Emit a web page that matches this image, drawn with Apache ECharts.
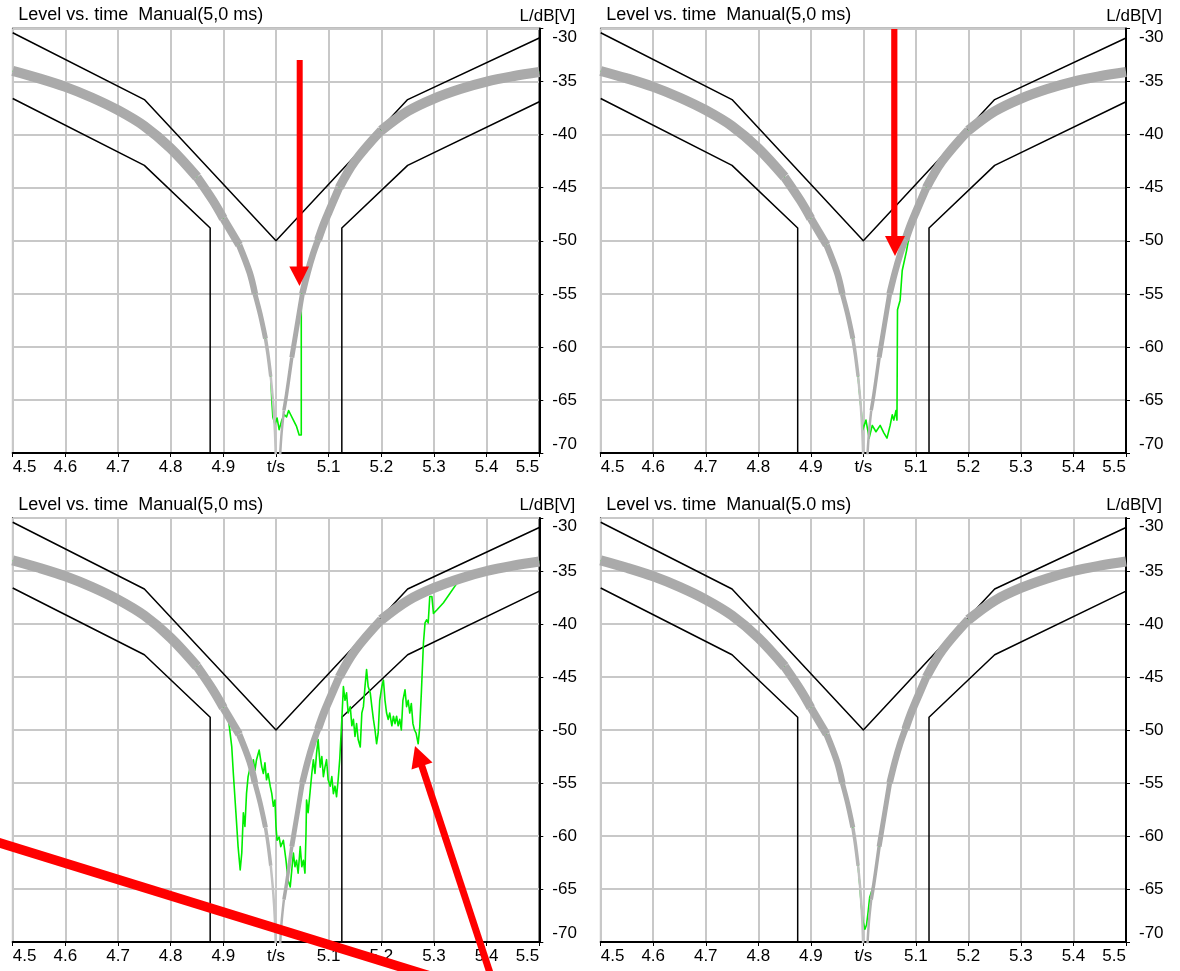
<!DOCTYPE html>
<html>
<head>
<meta charset="utf-8">
<script src="https://cdn.jsdelivr.net/npm/echarts@6/dist/echarts.min.js"></script>
<style>
  html, body { margin: 0; padding: 0; background: #ffffff; }
  #chart { width: 1180px; height: 971px; }
</style>
</head>
<body>
<div id="chart"></div>
<script>
// ---- text ----
const panelTitles = [
  'Level vs. time  Manual(5,0 ms)',
  'Level vs. time  Manual(5,0 ms)',
  'Level vs. time  Manual(5,0 ms)',
  'Level vs. time  Manual(5.0 ms)'
];
const yUnitLabel = 'L/dB[V]';
const xTickLabels = ['4.5', '4.6', '4.7', '4.8', '4.9', 't/s', '5.1', '5.2', '5.3', '5.4', '5.5'];
const yTickLabels = ['-70', '-65', '-60', '-55', '-50', '-45', '-40', '-35', '-30'];

// ---- reference level (grey band), [t/s, L/dB] ----
const refLeft = [
  [4.50, -34.0], [4.55, -34.7], [4.60, -35.5], [4.65, -36.5], [4.70, -37.7],
  [4.75, -39.2], [4.80, -41.3], [4.85, -44.0], [4.88, -46.2], [4.90, -47.9],
  [4.93, -50.4], [4.95, -53.0], [4.96, -55.0], [4.97, -56.9], [4.98, -59.2],
  [4.985, -60.8], [4.99, -62.8], [4.995, -65.5], [4.998, -68.0], [5.000, -71.0]
];
const refRight = [
  [5.006, -72.0], [5.010, -68.5], [5.015, -66.0], [5.020, -64.5], [5.030, -61.0],
  [5.040, -58.0], [5.050, -55.0], [5.060, -53.0], [5.070, -51.3], [5.080, -49.9],
  [5.090, -48.5], [5.100, -47.3], [5.120, -45.0], [5.150, -42.5], [5.200, -39.6],
  [5.250, -37.8], [5.300, -36.6], [5.350, -35.7], [5.400, -35.0], [5.450, -34.5],
  [5.500, -34.1]
];

// ---- tolerance mask (black) ----
const maskUpper = [[4.50, -30.4], [4.75, -36.7], [5.00, -50.0], [5.25, -36.7], [5.50, -30.9]];
const maskLowerLeft = [[4.50, -36.6], [4.75, -42.9], [4.875, -48.8], [4.875, -70.0]];
const maskLowerRight = [[5.125, -70.0], [5.125, -48.8], [5.25, -42.9], [5.50, -36.9]];

// ---- measured level (green) where it leaves the reference ----
const measNotch1 = [
  [4.992, -65.0], [4.994, -66.6], [4.998, -67.3], [5.002, -66.7], [5.006, -67.8],
  [5.011, -66.9], [5.016, -66.4], [5.020, -66.6], [5.024, -66.0], [5.027, -66.3],
  [5.033, -66.9], [5.039, -67.5], [5.044, -68.3], [5.048, -68.3], [5.048, -55.1],
  [5.052, -54.6]
];
const measNotch2 = [
  [4.994, -65.0], [4.997, -66.6], [4.999, -67.8], [5.005, -66.9], [5.011, -68.6],
  [5.017, -67.4], [5.024, -68.0], [5.032, -67.4], [5.039, -68.1], [5.045, -68.6],
  [5.051, -67.4], [5.055, -66.4], [5.058, -66.9], [5.062, -66.0], [5.064, -66.9],
  [5.065, -56.5], [5.070, -55.6], [5.074, -52.8], [5.082, -51.0], [5.090, -48.8]
];
const measDropout3 = [
  [4.909, -48.7], [4.916, -51.6], [4.919, -54.1], [4.924, -57.9], [4.928, -61.0],
  [4.932, -63.2], [4.935, -61.6], [4.938, -57.8], [4.941, -59.1], [4.944, -56.0],
  [4.947, -54.4], [4.951, -53.5], [4.954, -54.1], [4.957, -52.8], [4.960, -53.8],
  [4.963, -52.8], [4.968, -51.9], [4.973, -53.5], [4.976, -54.1], [4.979, -53.1],
  [4.982, -54.7], [4.985, -54.1], [4.989, -55.3], [4.992, -56.0], [4.995, -57.2],
  [4.998, -56.6], [5.000, -59.1], [5.002, -60.4], [5.006, -60.1], [5.009, -61.0],
  [5.014, -60.4], [5.019, -62.3], [5.023, -64.2], [5.027, -64.8], [5.030, -63.2],
  [5.033, -61.6], [5.036, -62.9], [5.039, -62.3], [5.042, -63.5], [5.046, -61.0],
  [5.049, -62.9], [5.052, -62.3], [5.055, -63.5], [5.057, -59.7], [5.058, -56.6],
  [5.061, -57.8], [5.065, -55.7], [5.068, -54.1], [5.071, -52.8], [5.074, -54.1],
  [5.077, -52.2], [5.080, -50.9], [5.084, -53.5], [5.087, -52.5], [5.090, -54.4],
  [5.093, -53.5], [5.096, -52.8], [5.099, -54.7], [5.103, -55.3], [5.106, -54.4],
  [5.109, -56.0], [5.112, -55.3], [5.115, -56.3], [5.118, -54.7], [5.121, -52.8],
  [5.125, -49.0], [5.128, -45.9], [5.131, -47.2], [5.134, -46.5], [5.137, -48.4],
  [5.141, -47.8], [5.144, -49.6], [5.147, -49.0], [5.150, -50.6], [5.153, -49.4],
  [5.156, -50.9], [5.160, -51.6], [5.163, -48.4], [5.166, -47.8], [5.169, -45.9],
  [5.172, -44.3], [5.175, -45.9], [5.179, -46.5], [5.182, -47.8], [5.185, -49.0],
  [5.188, -50.0], [5.191, -51.3], [5.194, -50.3], [5.197, -47.2], [5.201, -45.9],
  [5.204, -45.3], [5.207, -47.2], [5.210, -48.4], [5.213, -49.0], [5.216, -48.4],
  [5.220, -49.6], [5.223, -48.7], [5.226, -49.4], [5.229, -48.7], [5.232, -49.6],
  [5.235, -49.0], [5.238, -50.0], [5.241, -47.2], [5.245, -46.2], [5.248, -47.8],
  [5.251, -47.2], [5.254, -48.4], [5.257, -47.5], [5.260, -49.4], [5.263, -50.0],
  [5.266, -50.3], [5.270, -51.3], [5.273, -49.7], [5.276, -46.5], [5.280, -41.8],
  [5.283, -39.9], [5.286, -39.6], [5.289, -39.9], [5.292, -37.4], [5.296, -37.4],
  [5.299, -39.0], [5.305, -38.7], [5.318, -38.0]
];
const measNotch4 = [
  [4.993, -64.5], [4.996, -66.5], [4.999, -68.0], [5.003, -68.8], [5.006, -68.4],
  [5.009, -67.2], [5.012, -65.8], [5.016, -65.2]
];

// ---- layout of the four plots ----
const FONT = "'Liberation Sans', Arial, Helvetica, sans-serif";
const grids = [
  { left: 12.7, top: 28.5, width: 526.6, height: 424.5 },
  { left: 600.7, top: 28.5, width: 525.3, height: 424.5 },
  { left: 12.7, top: 518, width: 526.6, height: 424 },
  { left: 600.7, top: 518, width: 525.3, height: 424 }
];

const within = (arr, lo, hi) => arr.filter(p => p[0] >= lo - 1e-9 && p[0] <= hi + 1e-9);

const measured = [
  within(refLeft, 4.5, 4.99).concat(measNotch1, within(refRight, 5.06, 5.5)),
  within(refLeft, 4.5, 4.99).concat(measNotch2, within(refRight, 5.10, 5.5)),
  within(refLeft, 4.5, 4.90).concat(measDropout3, within(refRight, 5.35, 5.5)),
  within(refLeft, 4.5, 4.99).concat(measNotch4, within(refRight, 5.02, 5.5))
];

// grey band pieces: [from, to, width, colour], thinner towards the minimum
const bandLeft = [
  [4.50, 4.85, 10, '#aaaaaa'], [4.85, 4.90, 9, '#aaaaaa'], [4.90, 4.93, 8, '#aaaaaa'],
  [4.93, 4.96, 6.5, '#aaaaaa'], [4.96, 4.98, 5, '#acacac'], [4.98, 4.99, 3.5, '#b4b4b4'],
  [4.99, 5.00, 2.5, '#c2c2c2']
];
const bandRight = [
  [5.00, 5.015, 2.5, '#b0b0b0'], [5.015, 5.03, 3.5, '#aaaaaa'], [5.03, 5.05, 5, '#aaaaaa'],
  [5.05, 5.08, 6.5, '#aaaaaa'], [5.08, 5.12, 8, '#aaaaaa'], [5.12, 5.20, 9, '#aaaaaa'],
  [5.20, 5.50, 10, '#aaaaaa']
];

function line(i, data, color, width, z, smooth) {
  return {
    type: 'line', xAxisIndex: i, yAxisIndex: i, data: data,
    symbol: 'none', showSymbol: false, silent: true, animation: false,
    clip: true, z: z, smooth: smooth || false,
    lineStyle: { color: color, width: width, join: 'round', cap: 'butt' }
  };
}

const series = [];
const xAxes = [];
const yAxes = [];
const gridOpts = [];
const graphics = [];

grids.forEach((g, i) => {
  gridOpts.push({
    left: g.left, top: g.top, width: g.width, height: g.height,
    show: true, borderColor: '#000', borderWidth: 1.5, backgroundColor: '#fff'
  });
  xAxes.push({
    gridIndex: i, type: 'value', min: 4.5, max: 5.5, interval: 0.1,
    axisLine: { onZero: false, lineStyle: { color: '#000', width: 2 } },
    axisTick: { show: true, length: 4, lineStyle: { color: '#000', width: 1 } },
    axisLabel: {
      color: '#000', fontSize: 17, fontFamily: FONT, margin: 6,
      alignMinLabel: 'left', alignMaxLabel: 'right',
      formatter: v => xTickLabels[Math.round((v - 4.5) * 10)] || ''
    },
    splitLine: { show: true, lineStyle: { color: '#c8c8c8', width: 2 } }
  });
  yAxes.push({
    gridIndex: i, type: 'value', position: 'right', min: -70, max: -30, interval: 5,
    axisLine: { show: true, onZero: false, lineStyle: { color: '#000', width: 2 } },
    axisTick: { show: true, length: 4, lineStyle: { color: '#000', width: 1 } },
    axisLabel: {
      color: '#000', fontSize: 17, fontFamily: FONT, margin: 13,
      verticalAlignMaxLabel: 'top', verticalAlignMinLabel: 'bottom',
      formatter: v => yTickLabels[Math.round((v + 70) / 5)] || ''
    },
    splitLine: { show: true, lineStyle: { color: '#c8c8c8', width: 2 } }
  });

  // tolerance mask
  series.push(line(i, maskUpper, '#000', 1.5, 3));
  series.push(line(i, maskLowerLeft, '#000', 1.5, 3));
  series.push(line(i, maskLowerRight, '#000', 1.5, 3));
  // measured level
  series.push(line(i, measured[i], '#00ee00', 1.6, 4));
  // reference band
  bandLeft.forEach(b => series.push(line(i, within(refLeft, b[0], b[1]), b[3], b[2], 5, 0.35)));
  bandRight.forEach(b => series.push(line(i, within(refRight, b[0], b[1]), b[3], b[2], 5, 0.35)));

  // title and unit above each plot
  graphics.push({
    type: 'text', x: g.left + 5.5, y: g.top - 13, z: 50,
    style: { text: panelTitles[i], fontSize: 18, fontFamily: FONT, fill: '#000', align: 'left', verticalAlign: 'middle' }
  });
  graphics.push({
    type: 'text', x: g.left + g.width + 36, y: g.top - 12.5, z: 50,
    style: { text: yUnitLabel, fontSize: 17, fontFamily: FONT, fill: '#000', align: 'right', verticalAlign: 'middle' }
  });
});

// red hand-drawn markers
const RED = '#ff0000';
graphics.push(
  { type: 'rect', z: 100, shape: { x: 296.7, y: 60, width: 6, height: 207 }, style: { fill: RED } },
  { type: 'polygon', z: 100, shape: { points: [[289.3, 266.5], [309, 266.5], [299.5, 286]] }, style: { fill: RED } },
  { type: 'rect', z: 100, shape: { x: 891.2, y: 29, width: 6.2, height: 208 }, style: { fill: RED } },
  { type: 'polygon', z: 100, shape: { points: [[885, 236], [905, 236], [895, 256]] }, style: { fill: RED } },
  { type: 'line', z: 100, shape: { x1: -6, y1: 841.2, x2: 430, y2: 976 }, style: { stroke: RED, lineWidth: 9.5 } },
  { type: 'line', z: 100, shape: { x1: 491, y1: 976, x2: 421.5, y2: 765 }, style: { stroke: RED, lineWidth: 7 } },
  { type: 'polygon', z: 100, shape: { points: [[415, 746], [432.5, 762.5], [411.5, 769.5]] }, style: { fill: RED } }
);

const chart = echarts.init(document.getElementById('chart'), null, { renderer: 'canvas' });
chart.setOption({
  animation: false,
  backgroundColor: '#ffffff',
  grid: gridOpts,
  xAxis: xAxes,
  yAxis: yAxes,
  series: series,
  graphic: graphics
});
</script>
</body>
</html>
